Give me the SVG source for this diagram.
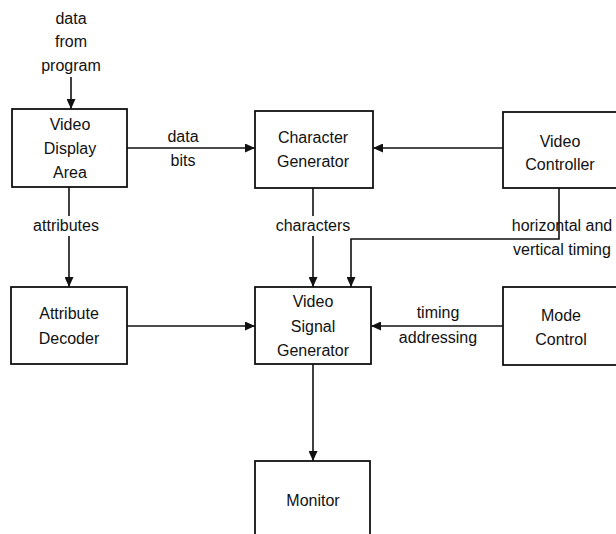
<svg xmlns="http://www.w3.org/2000/svg" width="616" height="534" viewBox="0 0 616 534">
<style>
.box{fill:#fff;stroke:#111;stroke-width:1.8}
.ln{fill:none;stroke:#111;stroke-width:1.6}
text{font-family:"Liberation Sans",Arial,sans-serif;font-size:16px;fill:#111;text-anchor:middle}
</style>
<defs>
<marker id="ah" markerUnits="userSpaceOnUse" markerWidth="11" markerHeight="9" refX="10" refY="4.5" orient="auto">
<path d="M0,0 L10,4.5 L0,9 z" fill="#111"/>
</marker>
</defs>
<rect width="616" height="534" fill="#fff"/>
<g id="connectors">
<path class="ln" d="M71,77 L71,109" marker-end="url(#ah)"/>
<path class="ln" d="M127,148 L255,148" marker-end="url(#ah)"/>
<path class="ln" d="M503,148 L373,148" marker-end="url(#ah)"/>
<path class="ln" d="M313,188 L313,216 M313,236 L313,287" marker-end="url(#ah)"/>
<path class="ln" d="M559,188 L559,239 L351,239 L351,287" marker-end="url(#ah)"/>
<path class="ln" d="M69,187 L69,216 M69,236 L69,287" marker-end="url(#ah)"/>
<path class="ln" d="M127,326 L255,326" marker-end="url(#ah)"/>
<path class="ln" d="M503,326 L371,326" marker-end="url(#ah)"/>
<path class="ln" d="M313,364 L313,461" marker-end="url(#ah)"/>
</g>
<g id="labels">
<text x="71" y="24">data</text>
<text x="71" y="47">from</text>
<text x="71" y="71">program</text>
<text x="183" y="142">data</text>
<text x="183" y="166">bits</text>
<text x="66" y="231">attributes</text>
<text x="313" y="231">characters</text>
<text x="562" y="231">horizontal and</text>
<text x="562" y="255">vertical timing</text>
<text x="438" y="318">timing</text>
<text x="438" y="343">addressing</text>
</g>
<g id="video-display-area">
<rect class="box" x="12" y="109" width="115" height="78"/>
<text x="70" y="130">Video</text>
<text x="70" y="154">Display</text>
<text x="70" y="178">Area</text>
</g>
<g id="character-generator">
<rect class="box" x="255" y="111" width="118" height="77"/>
<text x="313" y="143">Character</text>
<text x="313" y="167">Generator</text>
</g>
<g id="video-controller">
<rect class="box" x="503" y="112" width="114" height="76"/>
<text x="560" y="147">Video</text>
<text x="560" y="170">Controller</text>
</g>
<g id="attribute-decoder">
<rect class="box" x="11" y="287" width="116" height="77"/>
<text x="69" y="319">Attribute</text>
<text x="69" y="344">Decoder</text>
</g>
<g id="video-signal-generator">
<rect class="box" x="255" y="287" width="116" height="77"/>
<text x="313" y="307">Video</text>
<text x="313" y="332">Signal</text>
<text x="313" y="356">Generator</text>
</g>
<g id="mode-control">
<rect class="box" x="503" y="287" width="114" height="78"/>
<text x="561" y="321">Mode</text>
<text x="561" y="345">Control</text>
</g>
<g id="monitor">
<rect class="box" x="255" y="461" width="115" height="90"/>
<text x="313" y="506">Monitor</text>
</g>
</svg>
